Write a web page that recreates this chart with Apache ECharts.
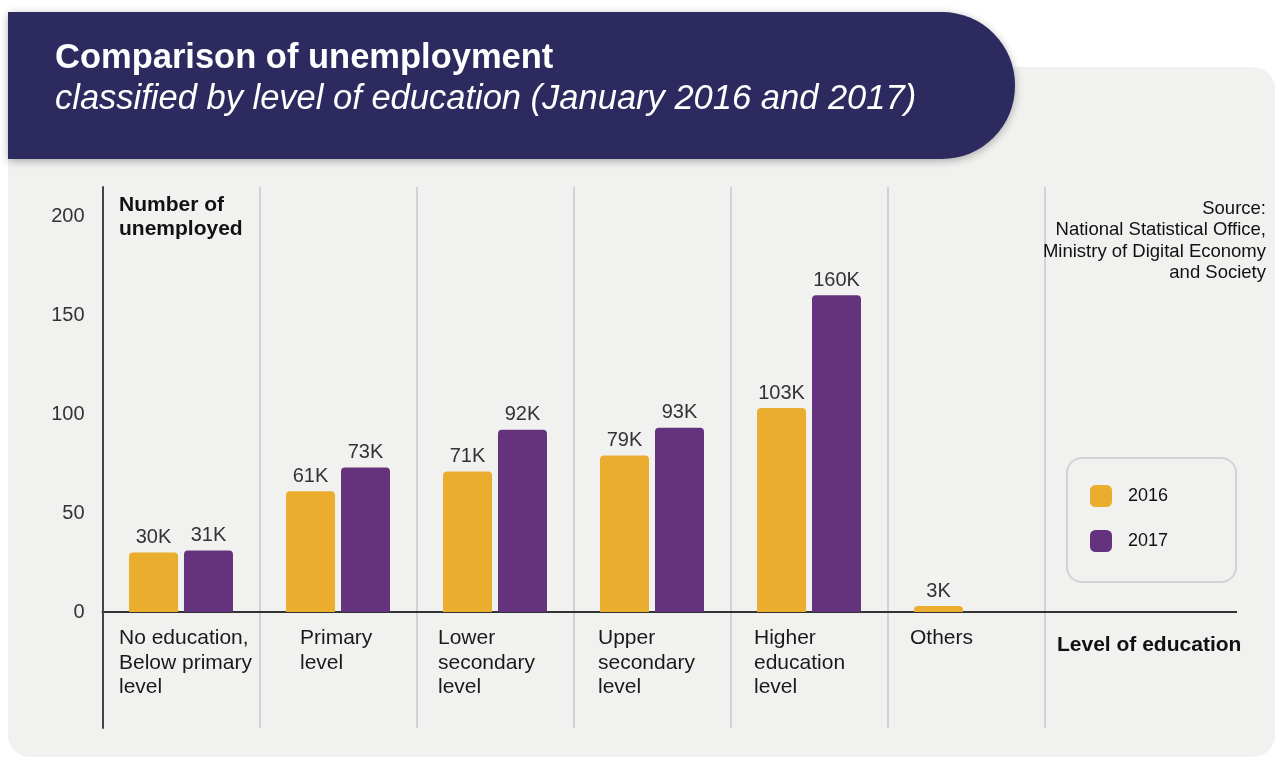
<!DOCTYPE html>
<html>
<head>
<meta charset="utf-8">
<script src="https://cdn.jsdelivr.net/npm/echarts@6/dist/echarts.min.js"></script>
<style>
  html, body { margin: 0; padding: 0; background: #ffffff; }
  #chart { width: 1275px; height: 757px; }
</style>
</head>
<body>
<div id="chart"></div>
<script>
// Unemployed persons (thousands) by level of education, January 2016 vs 2017
const categories = [
  'No education,\nBelow primary\nlevel',
  'Primary\nlevel',
  'Lower\nsecondary\nlevel',
  'Upper\nsecondary\nlevel',
  'Higher\neducation\nlevel',
  'Others'
];
const values2016 = [30, 61, 71, 79, 103, 3];
const values2017 = [31, 73, 92, 93, 160, null];
const seriesNames = ['2016', '2017'];
const yTickValues = [0, 50, 100, 150, 200];

const FONT = '"Liberation Sans", Arial, Helvetica, sans-serif';
const COLORS = ['#EAAD2E', '#65337D'];

// Width of the left-aligned text block under each category (centred on the category)
const labelBlockWidths = [124, 76, 114, 108, 110, 112];
const catRich = {};
labelBlockWidths.forEach(function (w, i) {
  catRich['c' + i] = {
    width: w, align: 'left', fontSize: 21, lineHeight: 24.5,
    color: '#1a1a1a', fontFamily: FONT
  };
});

// Plot area: columns run from the top rule down past the baseline
const GRID = { left: 102.5, right: 230.5, top: 187, bottom: 29 };
const Y_MIN = -58.59, Y_MAX = 214.65;

const chart = echarts.init(document.getElementById('chart'), null, { renderer: 'canvas' });

function barSeries(idx, data) {
  return {
    name: seriesNames[idx],
    type: 'bar',
    data: data,
    barWidth: 49,
    barGap: '12.2%',
    itemStyle: { color: COLORS[idx], borderRadius: [4, 4, 0, 0] },
    label: {
      show: true,
      position: 'top',
      distance: 5,
      formatter: function (p) { return p.value + 'K'; },
      fontSize: 20,
      fontFamily: FONT,
      color: '#333333'
    },
    emphasis: { disabled: true }
  };
}

chart.setOption({
  animation: false,
  backgroundColor: 'transparent',
  textStyle: { fontFamily: FONT },
  graphic: [
    {
      id: 'panel', type: 'rect', z: -2,
      shape: { x: 8, y: 67, width: 1267, height: 690, r: [0, 22, 22, 22] },
      style: { fill: '#F1F1F0' }
    },
    {
      id: 'banner', type: 'rect', z: -1,
      shape: { x: 8, y: 12, width: 1007, height: 147, r: [0, 73, 73, 0] },
      style: {
        fill: '#2C2A5E',
        shadowBlur: 8, shadowColor: 'rgba(0,0,0,0.3)', shadowOffsetY: 2
      }
    }
  ],
  title: [
    {
      text: 'Comparison of unemployment',
      left: 55, top: 38, padding: 0,
      textStyle: { color: '#ffffff', fontSize: 34.5, fontWeight: 'bold', lineHeight: 40, fontFamily: FONT }
    },
    {
      text: 'classified by level of education (January 2016 and 2017)',
      left: 55, top: 79, padding: 0,
      textStyle: { color: '#ffffff', fontSize: 34.5, fontWeight: 'normal', fontStyle: 'italic', lineHeight: 40, fontFamily: FONT }
    },
    {
      text: 'Number of\nunemployed',
      left: 119, top: 193, padding: 0,
      textStyle: { color: '#111111', fontSize: 21, fontWeight: 'bold', lineHeight: 24, fontFamily: FONT }
    },
    {
      // right-aligned block ending at x = 1266
      text: 'Source:\nNational Statistical Office,\nMinistry of Digital Economy\nand Society',
      left: 1266, top: 198, padding: 0, textAlign: 'right',
      textStyle: { color: '#111111', fontSize: 18.5, fontWeight: 'normal', lineHeight: 21.5, fontFamily: FONT }
    },
    {
      text: 'Level of education',
      left: 1057, top: 633, padding: 0,
      textStyle: { color: '#111111', fontSize: 21, fontWeight: 'bold', lineHeight: 24, fontFamily: FONT }
    }
  ],
  legend: {
    data: seriesNames,
    orient: 'vertical',
    left: 1067, top: 458,
    padding: [27, 68, 30, 23],
    itemWidth: 22, itemHeight: 22, itemGap: 23,
    icon: 'roundRect',
    borderColor: '#d3d3d3', borderWidth: 2, borderRadius: 15,
    selectedMode: false,
    textStyle: { fontSize: 18, color: '#111111', fontFamily: FONT, padding: [0, 0, 0, 11] }
  },
  grid: Object.assign({ outerBoundsMode: 'none', containLabel: false }, GRID),
  xAxis: {
    type: 'category',
    data: categories,
    boundaryGap: true,
    axisLine: { onZero: true, lineStyle: { color: '#333333', width: 2 } },
    axisTick: { show: false },
    splitLine: { show: true, interval: 0, lineStyle: { color: '#d2d2d2', width: 2 } },
    axisLabel: {
      interval: 0,
      // labels sit just under the zero baseline, which is above the plot bottom
      margin: -102,
      formatter: function (value, index) {
        return value.split('\n').map(function (line) { return '{c' + index + '|' + line + '}'; }).join('\n');
      },
      rich: catRich
    }
  },
  yAxis: {
    type: 'value',
    min: Y_MIN,
    max: Y_MAX,
    z: 3,
    axisLine: { show: true, lineStyle: { color: '#444444', width: 2 } },
    axisTick: { show: false },
    splitLine: { show: false },
    axisLabel: {
      customValues: yTickValues,
      margin: 18,
      fontSize: 20,
      color: '#333333',
      fontFamily: FONT
    }
  },
  series: [barSeries(0, values2016), barSeries(1, values2017)]
});

// Baseline continues past the last category column under the axis title
const zeroY = chart.convertToPixel({ yAxisIndex: 0 }, 0);
const axisEndX = 1275 - GRID.right;
chart.setOption({
  graphic: [
    {
      id: 'baselineExt', type: 'line', z: 1,
      shape: { x1: axisEndX, y1: zeroY, x2: 1237, y2: zeroY },
      style: { stroke: '#333333', lineWidth: 2 }
    }
  ]
});
</script>
</body>
</html>
